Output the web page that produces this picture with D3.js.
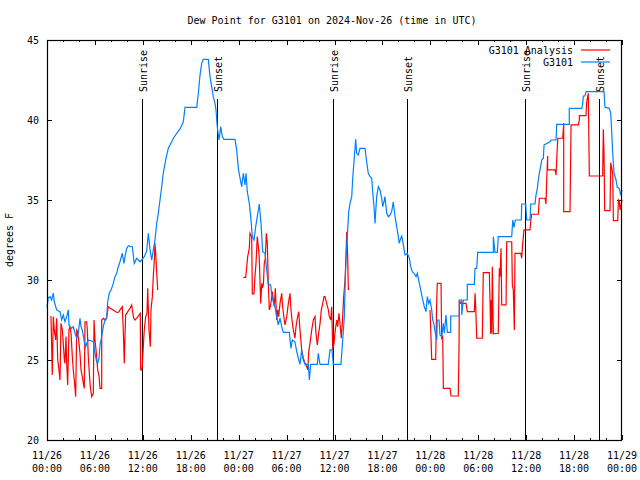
<!DOCTYPE html>
<html><head><meta charset="utf-8">
<script src="https://cdn.jsdelivr.net/npm/d3@7"></script>
<style>
body{margin:0;background:#fff;}
text{font-family:"DejaVu Sans Mono","Liberation Mono",monospace;font-size:10px;fill:#000;}
</style></head>
<body><svg id="c" width="640" height="480"></svg>
<script>
// ---- data (hours after 2024-11-26 00:00 UTC, dew point degF) ----
const blueHours = [0,0.16,0.38,0.59,0.79,0.91,1.21,1.63,1.84,2.04,2.25,2.47,2.67,2.75,3.09,3.29,3.51,3.72,3.92,4.13,4.26,4.42,4.67,4.85,4.97,5.17,5.6,5.8,6.01,6.22,6.35,6.51,6.64,6.85,7.05,7.26,7.48,7.6,7.8,8.1,8.3,8.51,8.73,8.93,9.14,9.43,9.64,9.77,9.98,10.18,10.68,10.93,11.23,11.65,11.86,12.18,12.48,12.69,12.9,13.11,13.31,13.52,13.74,13.94,14.15,14.36,14.56,14.78,14.99,15.19,15.4,15.61,15.82,16.24,16.65,17.07,17.28,18.75,18.95,19.16,19.37,19.57,20.2,20.41,20.62,20.82,21.04,21.16,21.32,21.54,21.75,21.95,22.16,23.54,23.75,23.96,24.17,24.38,24.58,24.79,24.92,25.08,25.33,25.51,25.71,25.92,26.13,26.33,26.58,26.8,27.01,27.3,27.51,27.71,28.01,28.14,28.34,28.55,28.76,28.96,29.18,29.39,29.59,30.34,30.55,30.72,31.05,31.27,31.47,31.68,31.89,32.09,32.31,32.72,32.85,33.02,33.85,33.97,34.18,35.22,35.44,35.69,35.85,36.81,37.03,37.23,37.32,37.44,37.6,37.78,37.94,38.16,38.28,38.44,38.57,38.65,38.78,38.98,39.19,39.82,40.03,40.23,40.45,40.66,40.78,40.95,41.07,41.28,41.49,41.7,41.91,42.04,42.2,42.32,42.54,42.74,42.95,43.16,43.36,43.58,43.79,43.99,44.11,44.29,44.42,44.62,44.83,45.12,45.37,45.54,45.74,45.96,46.21,46.37,46.62,46.8,47.0,47.25,47.46,47.62,47.8,47.96,48.17,48.3,48.46,48.59,48.8,48.87,49.09,49.21,49.42,49.63,49.75,49.96,50.13,50.55,50.55,51.63,51.63,51.93,51.93,52.13,52.63,52.63,53.51,53.6,53.81,53.93,55.89,55.89,56.1,56.39,56.51,58.19,58.32,58.48,58.64,59.39,59.44,59.94,60.07,60.48,60.57,61.11,61.23,61.4,61.52,61.65,61.82,61.95,62.15,62.24,62.99,63.11,63.74,63.83,65.4,65.4,66.96,67.08,67.16,67.37,67.5,69.75,69.87,70.41,70.59,70.71,70.84,71.0,71.25,71.41,71.66,71.84,72.0];
const blueDew = [28.3,28.88,28.96,28.75,29.19,28.64,28.13,28.02,27.5,27.81,27.39,27.71,28.13,27.19,26.98,27.08,26.67,26.36,26.67,27.61,27.08,26.88,26.14,25.83,26.04,26.25,26.19,26.14,25.42,24.89,24.79,25.11,25.94,26.46,27.08,27.5,27.61,28.64,29.17,29.48,29.79,30.21,30.42,30.83,31.14,31.67,31.04,31.46,31.98,32.13,32.08,31.04,31.36,31.14,31.25,31.46,31.8,32.92,31.88,31.25,31.88,32.5,33.54,34.17,35.0,35.83,36.67,37.29,37.81,38.23,38.44,38.64,38.86,39.17,39.44,39.89,40.79,40.79,41.67,42.81,43.54,43.79,43.79,42.71,42.08,41.46,41.04,40.63,39.58,38.75,39.58,38.96,38.79,38.79,38.13,36.98,36.36,35.83,36.67,35.94,36.67,35.52,34.79,33.96,32.71,32.5,33.33,33.96,34.75,33.54,31.77,31.67,30.63,29.73,29.69,29.06,28.64,28.33,27.71,27.19,27.61,27.08,26.73,26.73,25.73,26.25,26.14,25.52,25.11,24.73,25.63,25.0,24.73,24.73,23.75,24.73,24.73,25.42,24.73,24.73,25.63,25.63,24.73,24.73,26.25,27.71,29.38,31.46,32.71,34.27,34.79,35.21,36.36,37.39,38.23,38.79,37.92,37.81,38.23,38.23,37.39,36.67,36.46,36.36,35.52,34.58,33.54,35.21,35.83,35.63,35.1,34.58,34.89,35.21,34.17,33.96,34.06,34.27,34.89,33.96,33.33,32.71,32.29,32.6,32.75,32.19,31.56,31.67,31.36,30.83,30.52,30.42,30.21,30.42,29.79,29.38,28.86,28.33,28.02,28.96,28.54,28.75,28.13,27.5,27.23,26.77,26.25,27.5,27.5,26.56,26.46,27.29,26.67,27.81,26.73,26.73,27.75,27.75,28.75,28.75,27.81,28.75,28.75,29.73,29.73,30.73,30.73,31.73,31.73,32.71,31.73,31.73,32.71,32.71,33.75,33.29,33.75,33.75,34.75,34.75,33.75,33.75,34.75,34.75,35.31,35.73,36.25,36.67,37.13,37.5,37.61,38.44,38.64,38.75,38.75,39.73,39.73,40.73,40.73,41.0,41.5,41.5,41.77,41.77,40.79,40.73,40.42,39.27,37.92,36.71,36.25,35.79,35.73,35.31,35.63];

// Analysis series: null marks a gap
const redHours = [0.5,0.66,0.79,0.91,1.09,1.21,1.34,1.5,1.63,1.75,1.92,2.04,2.17,2.25,2.38,2.47,2.59,2.75,2.88,3.01,3.17,3.29,3.42,3.59,3.72,3.84,4.01,4.13,4.26,4.42,4.55,4.67,4.76,4.97,5.05,5.17,5.3,5.42,5.6,5.8,5.89,6.01,6.14,6.35,6.51,6.64,6.85,6.85,7.05,7.35,7.48,7.68,7.89,8.3,8.6,8.85,9.02,9.14,9.43,9.55,9.68,9.77,9.85,10.11,10.39,10.61,10.68,10.86,11.02,11.23,11.52,11.68,11.73,11.86,11.93,12.06,12.18,12.36,12.52,12.61,12.77,12.94,13.02,13.19,13.31,13.44,13.52,13.61,13.74,13.86,
 null,
 24.58,24.88,25.01,25.13,25.33,25.42,25.63,25.71,25.92,26.04,26.17,26.33,26.51,26.58,26.76,26.89,27.01,27.09,27.21,27.34,27.46,27.59,27.71,27.84,27.96,28.09,28.21,28.34,28.46,28.59,28.76,28.89,29.01,29.18,29.39,29.51,29.68,29.8,30.02,30.22,30.43,30.55,30.68,30.84,31.05,31.18,31.34,31.52,31.68,31.89,32.09,32.31,32.52,32.65,32.77,32.93,33.15,33.35,33.56,33.68,33.85,34.02,34.19,34.35,34.53,34.69,34.81,35.02,35.23,35.35,35.53,35.65,35.78,35.94,36.1,36.28,36.4,36.56,36.73,36.85,36.98,37.15,37.32,37.44,37.53,37.65,37.73,37.85,
 null,
 47.96,48.05,48.17,48.67,48.8,48.87,49.34,49.42,49.55,49.63,50.46,50.59,51.5,51.59,51.63,51.8,52.47,52.63,53.51,53.6,53.68,53.81,54.51,54.63,55.39,55.47,55.56,55.63,55.69,55.76,55.89,56.51,56.64,56.73,56.85,56.94,57.48,57.56,58.19,58.27,58.39,58.52,58.6,59.32,59.44,59.57,59.73,60.48,60.57,60.69,61.52,61.65,62.36,62.48,62.57,62.69,62.69,63.62,63.74,63.87,63.96,64.58,64.7,64.7,65.49,65.62,66.53,66.66,66.66,67.49,67.58,67.78,67.91,69.58,69.66,69.75,69.83,70.5,70.59,70.84,70.92,71.47,71.55,71.67,71.76,72.0];
const redDew = [27.75,24.06,27.71,26.88,26.25,27.61,25.0,24.38,23.75,27.29,26.88,26.04,25.0,24.79,26.46,24.79,23.44,26.88,27.08,26.67,25.21,24.38,23.75,22.71,26.88,26.77,26.04,25.42,24.38,23.96,23.54,23.23,27.39,27.39,26.88,25.21,24.17,23.33,22.71,22.92,27.5,26.25,25.63,24.38,24.0,23.23,23.23,27.5,27.61,27.5,27.71,28.33,28.23,28.13,28.02,27.96,28.02,28.13,28.33,26.88,24.79,26.67,27.81,28.02,28.23,28.44,28.13,27.61,27.5,27.61,27.81,27.92,24.38,24.38,24.58,25.83,26.88,27.71,27.92,29.48,26.88,25.83,28.13,28.96,30.21,31.25,32.29,31.67,30.42,29.38,
 null,
 30.17,30.17,30.83,31.46,31.98,32.92,32.71,29.13,29.13,30.21,31.04,32.71,31.88,31.36,28.54,29.79,29.58,29.69,31.04,31.36,32.92,32.29,29.79,28.13,28.33,28.75,29.27,28.75,28.33,29.48,27.5,28.13,27.71,28.54,29.17,28.33,27.61,27.19,27.71,28.54,29.17,28.13,27.5,26.88,26.36,27.08,27.61,28.02,26.88,25.63,25.11,24.79,24.58,24.38,25.52,26.04,26.88,27.5,27.71,26.67,25.94,26.67,27.29,28.13,28.54,28.96,28.96,28.54,28.13,27.71,27.5,28.33,25.63,26.04,26.88,27.5,27.08,27.92,27.08,26.36,27.29,28.96,30.0,31.46,33.02,31.46,29.42,29.42,
 null,
 28.13,26.88,25.04,25.04,28.64,29.79,29.79,26.36,26.46,23.23,23.23,22.75,22.75,25.63,28.75,28.54,28.54,28.02,28.02,29.17,28.33,26.36,26.36,30.46,30.46,28.75,26.63,28.75,26.67,30.83,26.63,26.67,30.73,30.21,31.98,28.44,28.44,32.39,32.39,29.69,29.38,26.88,31.67,31.67,31.36,32.29,33.13,33.13,33.64,34.11,34.11,35.11,35.11,34.75,36.25,37.75,36.88,36.88,36.56,38.02,38.86,38.86,39.79,34.27,34.27,39.69,39.69,40.0,40.27,40.27,41.14,41.67,36.5,36.5,39.42,37.92,34.33,34.33,37.33,36.67,33.71,33.71,35.0,34.9,34.38,35.0];

const eventHours = [11.86, 21.25, 35.85, 45.12, 59.89, 69.16];
const eventLabels = ["Sunrise","Sunset","Sunrise","Sunset","Sunrise","Sunset"];
const yTicks = [20,25,30,35,40,45];
const seriesNames = ["G3101 Analysis","G3101"];
const seriesColors = ["#ff0000","#0080ff"];
const titleText = "Dew Point for G3101 on 2024-Nov-26 (time in UTC)";
const yLabel = "degrees F";

// ---- drawing ----
const svg = d3.select("#c");
const t0 = Date.UTC(2024,10,26);
const toDate = h => new Date(t0 + h*3600000);
const L=47, R=622, T=40, B=440;
const x = d3.scaleUtc().domain([toDate(0), toDate(72)]).range([L,R]);
const y = d3.scaleLinear().domain([20,45]).range([B,T]);

// title & y label
svg.append("text").attr("x",332).attr("y",24).attr("text-anchor","middle").text(titleText);
svg.append("text").attr("transform","translate(13,240) rotate(-90)").attr("text-anchor","middle").text(yLabel);

// axes
const major = d3.utcHour.every(6), minor = d3.utcHour.every(2);
const fmtD = d3.utcFormat("%m/%d"), fmtT = d3.utcFormat("%H:%M");
const xb = svg.append("g").attr("transform",`translate(0,${B})`)
  .call(d3.axisBottom(x).ticks(minor).tickSize(0).tickFormat(""));
xb.select(".domain").remove();
// tick marks drawn with axis generators (inward)
svg.append("g").attr("transform",`translate(0,${B})`).call(d3.axisTop(x).ticks(minor).tickSize(2).tickFormat("")).call(g=>g.select(".domain").remove());
svg.append("g").attr("transform",`translate(0,${B})`).call(d3.axisTop(x).ticks(major).tickSize(5).tickFormat("")).call(g=>g.select(".domain").remove());
svg.append("g").attr("transform",`translate(0,${T})`).call(d3.axisBottom(x).ticks(minor).tickSize(2).tickFormat("")).call(g=>g.select(".domain").remove());
svg.append("g").attr("transform",`translate(0,${T})`).call(d3.axisBottom(x).ticks(major).tickSize(5).tickFormat("")).call(g=>g.select(".domain").remove());
svg.append("g").attr("transform",`translate(${L},0)`).call(d3.axisRight(y).tickValues(yTicks).tickSize(5).tickFormat("")).call(g=>g.select(".domain").remove());
svg.append("g").attr("transform",`translate(${R},0)`).call(d3.axisLeft(y).tickValues(yTicks).tickSize(5).tickFormat("")).call(g=>g.select(".domain").remove());
svg.selectAll(".tick line").attr("stroke","#000").attr("stroke-width",1).attr("shape-rendering","crispEdges");

// x tick labels (two lines)
const xt = svg.append("g");
x.ticks(major).forEach(d=>{
  const tx = xt.append("text").attr("x",x(d)).attr("text-anchor","middle");
  tx.append("tspan").attr("x",x(d)).attr("y",459).text(fmtD(d));
  tx.append("tspan").attr("x",x(d)).attr("y",472).text(fmtT(d));
});
// y tick labels
yTicks.forEach(v=>{
  svg.append("text").attr("x",39).attr("y",y(v)+4).attr("text-anchor","end").text(v);
});

// events
eventHours.forEach((h,i)=>{
  const ex = Math.round(x(toDate(h)))+0.5;
  svg.append("line").attr("x1",ex).attr("x2",ex).attr("y1",99).attr("y2",B).attr("stroke","#000").attr("stroke-width",1);
  svg.append("text").attr("transform",`translate(${ex+4},92) rotate(-90)`).text(eventLabels[i]);
});

// series
const line = d3.line().defined(d=>d[0]!==null).x(d=>x(toDate(d[0]))).y(d=>y(d[1]));
const redData = redHours.map((h,i)=>[h,redDew[i]]);
const blueData = blueHours.map((h,i)=>[h,blueDew[i]]);
svg.append("path").datum(redData).attr("d",line).attr("fill","none").attr("stroke",seriesColors[0]).attr("stroke-width",1.2);
svg.append("path").datum(blueData).attr("d",line).attr("fill","none").attr("stroke",seriesColors[1]).attr("stroke-width",1.2);

// frame
svg.append("rect").attr("x",L+0.5).attr("y",T+0.5).attr("width",R-L-1).attr("height",B-T).attr("fill","none").attr("stroke","#000").attr("stroke-width",1.2);

// legend
seriesNames.forEach((n,i)=>{
  const ly = 50 + i*12;
  svg.append("text").attr("x",573).attr("y",ly+4).attr("text-anchor","end").text(n);
  svg.append("line").attr("x1",581).attr("x2",610).attr("y1",ly).attr("y2",ly).attr("stroke",seriesColors[i]).attr("stroke-width",1.2);
});
</script></body></html>
